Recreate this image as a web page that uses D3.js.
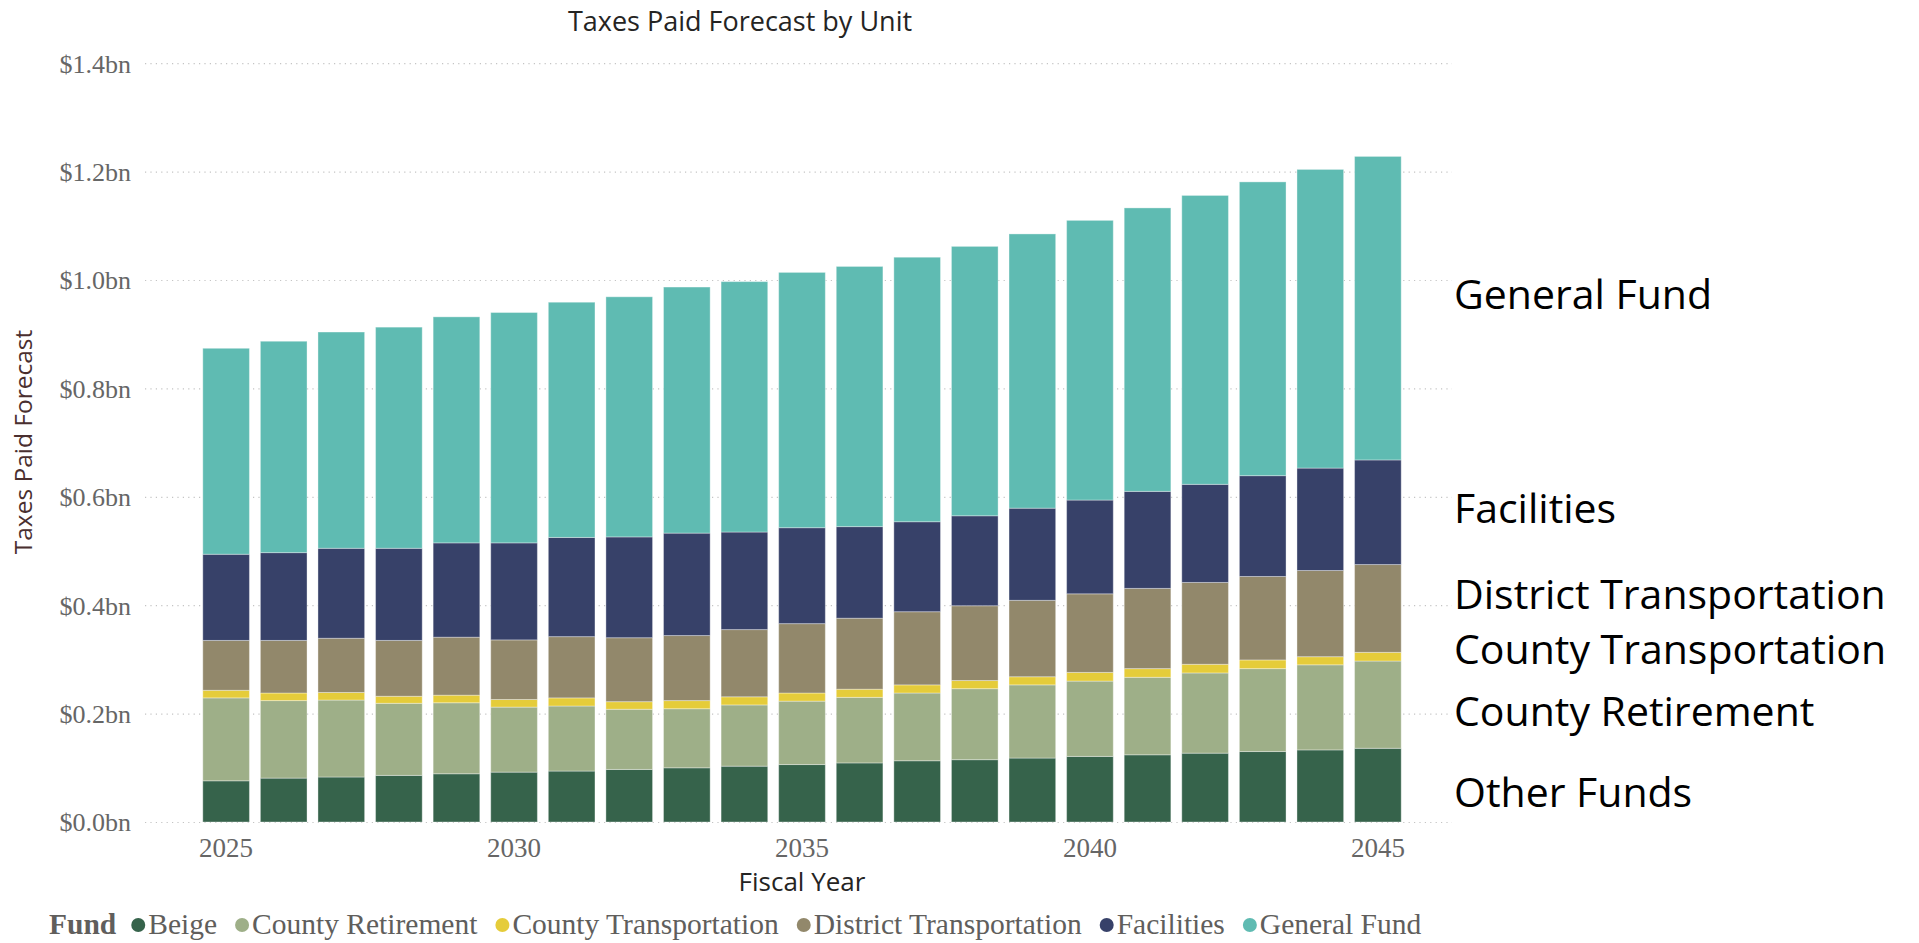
<!DOCTYPE html>
<html>
<head>
<meta charset="utf-8">
<script src="https://cdn.jsdelivr.net/npm/d3@7/dist/d3.min.js"></script>
<style>
  html, body { margin: 0; padding: 0; background: #ffffff; }
  svg { display: block; }
</style>
</head>
<body>
<svg id="chart" width="1919" height="943"></svg>
<script>
// Fiscal years shown on the category axis
const years = d3.range(2025, 2046);
const yearTicks = [2025, 2030, 2035, 2040, 2045];

// Taxes paid forecast by fund, in $ millions (stacked bottom to top)
const funds = ["Beige", "County Retirement", "County Transportation", "District Transportation", "Facilities", "General Fund"];
const beige        = [76, 81, 83, 86, 89, 92, 94, 97, 100, 103, 106, 109, 113, 115, 118, 121, 124, 127, 130, 133, 136];
const retirement   = [153, 143, 142, 133, 131, 120, 120, 111, 109, 113, 117, 121, 125, 131, 135, 139, 143, 148, 153, 157, 161];
const countyTrans  = [14, 14, 14, 13, 14, 14, 15, 14, 15, 15, 15, 15, 15, 15, 15, 16, 16, 16, 16, 15, 16];
const districtTrans= [92, 97, 100, 103, 107, 110, 113, 118, 120, 124, 128, 131, 135, 138, 141, 145, 148, 151, 154, 159, 162];
const facilities   = [159, 162, 166, 170, 174, 179, 183, 186, 189, 180, 177, 169, 166, 166, 170, 173, 179, 181, 186, 189, 193];
const generalFund  = [380, 390, 399, 408, 417, 425, 434, 443, 454, 462, 471, 480, 488, 497, 506, 516, 523, 533, 542, 551, 560];

// Value-axis ticks in $ billions
const yTicks = [0, 0.2, 0.4, 0.6, 0.8, 1.0, 1.2, 1.4];

// Side annotations naming each band
const sideLabels = ["General Fund", "Facilities", "District Transportation", "County Transportation", "County Retirement", "Other Funds"];

const colors = ["#36634b", "#9eaf88", "#e5cc3a", "#92886b", "#374169", "#5fbbb2"];

const series = [beige, retirement, countyTrans, districtTrans, facilities, generalFund];
const rows = years.map((yr, i) => {
  const r = { year: yr };
  funds.forEach((f, k) => { r[f] = series[k][i] / 1000; });
  return r;
});

const svg = d3.select("#chart");
const serif = "'Liberation Serif', 'Times New Roman', serif";
const sans = "'Open Sans', 'Noto Sans', sans-serif";

const gridLeft = 145, gridRight = 1452;
const x = d3.scaleBand().domain(years).range([174, 1430]).paddingInner(0.19).paddingOuter(0.5);
const y = d3.scaleLinear().domain([0, 1.4]).range([822, 63.2]);

// Title
svg.append("text")
  .attr("x", 740).attr("y", 31)
  .attr("text-anchor", "middle")
  .attr("font-family", sans).attr("font-size", 27)
  .attr("fill", "#252423")
  .text("Taxes Paid Forecast by Unit");

// Dotted gridlines
svg.append("g").selectAll("line").data(yTicks).join("line")
  .attr("x1", gridLeft).attr("x2", gridRight)
  .attr("y1", d => y(d) + 0.5).attr("y2", d => y(d) + 0.5)
  .attr("stroke", "#c4c4c4").attr("stroke-width", 1.2)
  .attr("stroke-dasharray", "1.2,4.2");

// Value axis
const yAxis = d3.axisLeft(y).tickValues(yTicks).tickSize(0).tickPadding(0)
  .tickFormat(d => "$" + d3.format(".1f")(d) + "bn");
const gy = svg.append("g").attr("transform", "translate(131,0)").call(yAxis);
gy.select(".domain").remove();
gy.selectAll("text")
  .attr("font-family", serif).attr("font-size", 26)
  .attr("fill", "#666666").attr("dy", "0.34em");

// Stacked bars
const stack = d3.stack().keys(funds)(rows);
svg.append("g").selectAll("g").data(stack).join("g")
  .attr("fill", (d, i) => colors[i])
  .selectAll("rect").data(d => d).join("rect")
  .attr("x", d => x(d.data.year))
  .attr("width", x.bandwidth())
  .attr("y", d => y(d[1]))
  .attr("height", d => y(d[0]) - y(d[1]))
  .attr("stroke", "rgba(255,255,255,0.35)")
  .attr("stroke-width", 1);

// Category axis
const xAxis = d3.axisBottom(x).tickValues(yearTicks).tickSize(0).tickPadding(0);
const gx = svg.append("g").attr("transform", "translate(0,857)").call(xAxis);
gx.select(".domain").remove();
gx.selectAll("text")
  .attr("font-family", serif).attr("font-size", 27)
  .attr("fill", "#666666").attr("dy", 0);

// Axis titles
svg.append("text")
  .attr("x", 802).attr("y", 891)
  .attr("text-anchor", "middle")
  .attr("font-family", sans).attr("font-size", 26)
  .attr("fill", "#252423")
  .text("Fiscal Year");

svg.append("text")
  .attr("transform", "translate(32,442) rotate(-90)")
  .attr("text-anchor", "middle")
  .attr("font-family", sans).attr("font-size", 24.5)
  .attr("fill", "#4a2f2f")
  .text("Taxes Paid Forecast");

// Legend
const legend = svg.append("g").attr("transform", "translate(0,934)");
const title = legend.append("text")
  .attr("x", 49).attr("y", 0)
  .attr("font-family", serif).attr("font-size", 29.5).attr("font-weight", "bold")
  .attr("fill", "#605e5c")
  .text("Fund");
let lx = 49 + title.node().getComputedTextLength() + 15;
funds.forEach((f, i) => {
  legend.append("circle")
    .attr("cx", lx + 7).attr("cy", -9).attr("r", 7)
    .attr("fill", colors[i]);
  const t = legend.append("text")
    .attr("x", lx + 17).attr("y", 0)
    .attr("font-family", serif).attr("font-size", 29.5)
    .attr("fill", "#605e5c")
    .text(f);
  lx += 17 + t.node().getComputedTextLength() + 18;
});

// Band annotations on the right
const sideY = [309, 523, 609, 664, 726, 807];
svg.append("g").selectAll("text").data(sideLabels).join("text")
  .attr("x", 1454).attr("y", (d, i) => sideY[i])
  .attr("font-family", sans).attr("font-size", 41)
  .attr("fill", "#000000")
  .text(d => d);
</script>
</body>
</html>
